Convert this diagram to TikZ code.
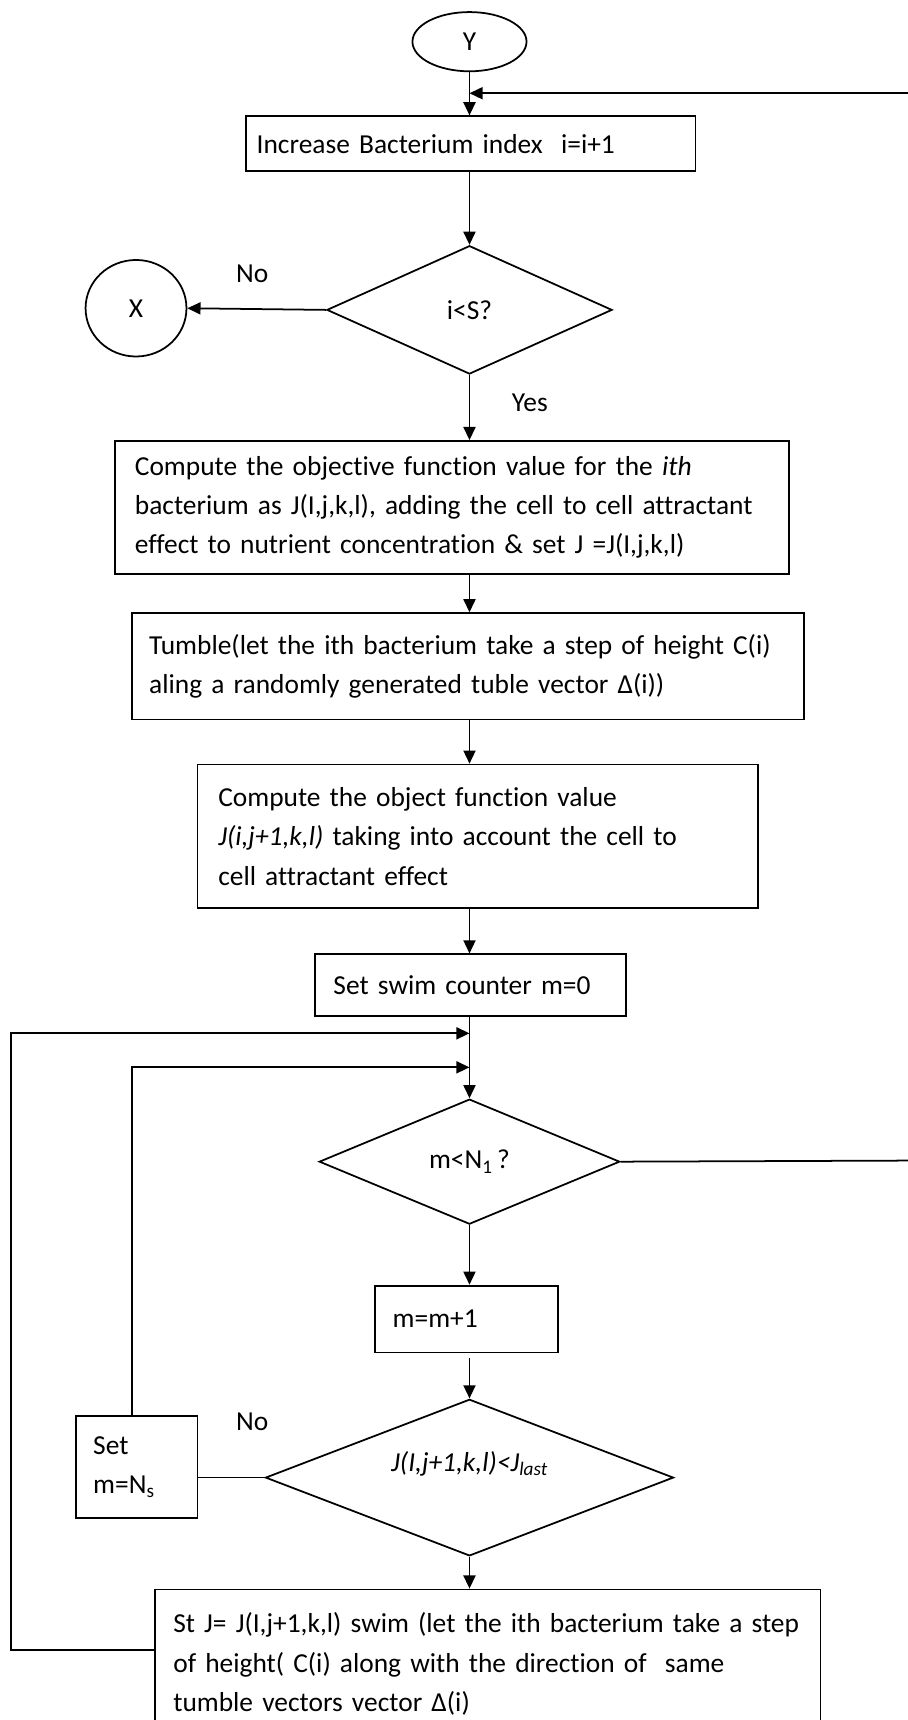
\documentclass[tikz,border=0pt]{standalone}
\usepackage{fontspec}
\setmainfont{Carlito}[Ligatures=NoCommon]
\usetikzlibrary{shapes.geometric,arrows.meta}

\begin{document}
\begin{tikzpicture}[x=1pt,y=-1pt,
  font=\fontsize{25}{36}\selectfont,
  line width=1.6pt,
  box/.style={draw, rectangle, align=left, inner ysep=0pt},
  decision/.style={draw, diamond, inner sep=0pt, align=center},
  term/.style={draw, ellipse, inner sep=0pt},
  arr/.style={-{Triangle[length=12pt,width=11pt]}}]

\useasboundingbox (0,0) rectangle (827,1568);

% terminals
\node[term, minimum width=104pt, minimum height=54pt] (Y) at (428,38) {Y};
\node[term, minimum width=92pt, minimum height=88pt] (X) at (124,281) {X};

% main column
\node[box, minimum width=410pt, minimum height=50pt, text width=390pt, inner xsep=10pt]
  (b1) at (429,131) {Increase Bacterium index\ \ i=i+1};
\node[decision, minimum width=260pt, minimum height=117pt] (d1) at (428,282.5) {i<S?};
\node[box, minimum width=614pt, minimum height=121pt, text width=578pt, inner xsep=18pt]
  (b2) at (412,462.5) {Compute the objective function value for the \textit{ith}\\
  bacterium as J(I,j,k,l), adding the cell to cell attractant\\
  effect to nutrient concentration \& set J =J(I,j,k,l)};
\node[box, minimum width=613pt, minimum height=97pt, text width=581pt, inner xsep=16pt]
  (b3) at (426.5,607.5) {Tumble(let the ith bacterium take a step of height C(i)\\
  aling a randomly generated tuble vector Δ(i))};
\node[box, minimum width=511pt, minimum height=131pt, text width=473pt, inner xsep=19pt]
  (b4) at (435.5,762.5) {Compute the object function value\\
  \textit{J(i,j+1,k,l)} taking into account the cell to\\
  cell attractant effect};
\node[box, minimum width=284pt, minimum height=56pt, text width=250pt, inner xsep=17pt]
  (b5) at (429,898) {Set swim counter m=0};
\node[decision, minimum width=274pt, minimum height=114pt] (d2) at (428,1059) {m<N\textsubscript{1}\,?};
\node[box, minimum width=167pt, minimum height=61pt, text width=135pt, inner xsep=16pt]
  (b6) at (425.5,1202.5) {m=m+1};
\node[decision, minimum width=372pt, minimum height=132pt] (d3) at (428,1347)
  {\raisebox{6pt}[0pt][0pt]{\textit{J(I,j+1,k,l)<J\textsubscript{last}}}};
\node[box, minimum width=111pt, minimum height=93pt, text width=79pt, inner xsep=16pt]
  (set) at (124.5,1337.5) {Set\\m=N\textsubscript{s}};
\node[box, minimum width=607pt, minimum height=136pt, text width=573pt, inner xsep=17pt]
  (b7) at (444.5,1517) {St J= J(I,j+1,k,l) swim (let the ith bacterium take a step\\
  of height( C(i) along with the direction of\ \ same\\
  tumble vectors vector Δ(i)};

% branch labels
\node (noA) at (230,250) {No};
\node (yesA) at (483,367) {Yes};
\node (noB) at (230,1296) {No};

% junctions and off-page ends
\coordinate (jt) at (428,85);
\coordinate (retR) at (830,85);
\coordinate (exitR) at (830,1058);
\coordinate (j1) at (428,942);
\coordinate (j2) at (428,973);
\coordinate (L1) at (10,942);

% connectors along the main column (x of the decisions)
\draw[arr] (Y.south) -- (b1.north -| Y);
\draw[arr] (retR) -- (jt);
\draw[arr] (b1.south -| d1) -- (d1.north);
\draw[arr] (d1.west) -- (X.east);
\draw[arr] (d1.south) -- (b2.north -| d1);
\draw[arr] (b2.south -| d1) -- (b3.north -| d1);
\draw[arr] (b3.south -| d1) -- (b4.north -| d1);
\draw[arr] (b4.south -| d1) -- (b5.north -| d1);
\draw[arr] (b5.south -| d2) -- (d2.north);
\draw (d2.east) -- (exitR);
\draw[arr] (d2.south) -- (b6.north -| d2);
\draw[arr, shorten <=4pt] (b6.south -| d3) -- (d3.north);
\draw (d3.west) -- (d3.west -| set.east);
\draw[arr] (d3.south) -- (b7.north -| d3);

% swim loops back to the counter test
\draw[arr] ([xshift=-4.5pt]set.north) |- (j2);
\draw[arr] ([yshift=-56pt]b7.north west) -| (L1) -- (j1);
\end{tikzpicture}
\end{document}
